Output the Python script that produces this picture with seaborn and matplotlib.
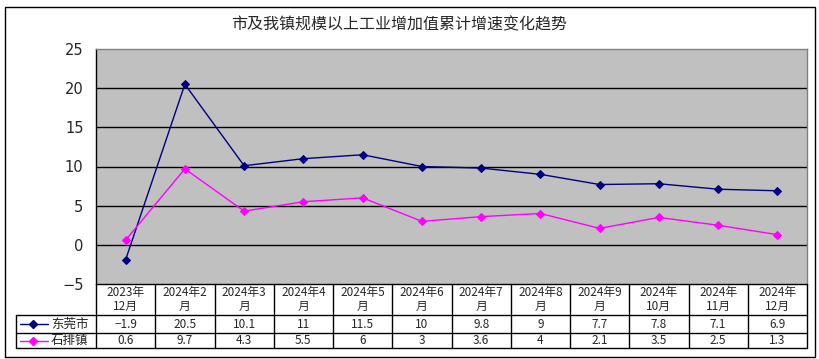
import pandas as pd
import matplotlib
matplotlib.use("Agg")
import matplotlib.pyplot as plt
import seaborn as sns

months = ["2023年\n12月", "2024年2\n月", "2024年3\n月", "2024年4\n月", "2024年5\n月",
          "2024年6\n月", "2024年7\n月", "2024年8\n月", "2024年9\n月",
          "2024年\n10月", "2024年\n11月", "2024年\n12月"]
dongguan = [-1.9, 20.5, 10.1, 11, 11.5, 10, 9.8, 9, 7.7, 7.8, 7.1, 6.9]
shipai = [0.6, 9.7, 4.3, 5.5, 6, 3, 3.6, 4, 2.1, 3.5, 2.5, 1.3]
series_names = ["东莞市", "石排镇"]
series_colors = ["#000080", "#FF00FF"]
yticks = [-5, 0, 5, 10, 15, 20, 25]
title = "市及我镇规模以上工业增加值累计增速变化趋势"

sns.set_theme(style="white")
plt.rcParams["font.family"] = ["Noto Sans CJK SC", "DejaVu Sans"]

W, H = 819, 359
fig = plt.figure(figsize=(W / 100, H / 100), dpi=100)

# pixel layout
px_l, px_r, px_t, px_b = 96, 807, 49, 284
ax = fig.add_axes([px_l / W, 1 - px_b / H, (px_r - px_l) / W, (px_b - px_t) / H])

df = pd.DataFrame({
    "x": list(range(len(months))) * 2,
    "value": dongguan + shipai,
    "series": [series_names[0]] * len(months) + [series_names[1]] * len(months),
})
for name, color in zip(series_names, series_colors):
    sub = df[df["series"] == name]
    sns.lineplot(data=sub, x="x", y="value", ax=ax, color=color, marker="D",
                 markersize=4, markeredgecolor=color, linewidth=1, legend=False)

ax.set_facecolor("#C0C0C0")
ax.set_xlim(-0.5, len(months) - 0.5)
ax.set_ylim(-5, 25)
ax.set_yticks(yticks)
ax.set_yticklabels([f"{t}" if t >= 0 else f"\u2212{abs(t)}" for t in yticks],
                   fontsize=10.5, family=["DejaVu Sans"])
ax.tick_params(axis="y", length=0, pad=9)
ax.set_xticks([])
ax.set_xlabel("")
ax.set_ylabel("")
for t in yticks[1:-1]:
    ax.axhline(t, color="black", linewidth=1, zorder=0.5)
for side in ["top", "right"]:
    ax.spines[side].set_color("#808080")
    ax.spines[side].set_linewidth(1)
ax.spines["left"].set_color("black")
ax.spines["left"].set_linewidth(1)
ax.spines["bottom"].set_visible(False)

# overlay in pixel coordinates for the frame and data table
ov = fig.add_axes([0, 0, 1, 1], zorder=-1)
ov.set_xlim(0, W)
ov.set_ylim(H, 0)
ov.axis("off")
ov.add_patch(plt.Rectangle((5, 7), 810, 350, fill=False, edgecolor="black", linewidth=1))
fig.text(399 / W, 1 - 25 / H, title, ha="center", va="center", fontsize=11.5)

tb = fig.add_axes([0, 0, 1, 1], zorder=3)
tb.set_xlim(0, W)
tb.set_ylim(H, 0)
tb.axis("off")
tb.patch.set_alpha(0)
r0, r1, r2, r3 = 284, 315, 333, 348
leg_l = 16
colw = (px_r - px_l) / len(months)
lk = dict(color="black", linewidth=1)
tb.plot([px_l, px_r], [r0, r0], **lk)
for y in (r1, r2, r3):
    tb.plot([leg_l, px_r], [y, y], **lk)
tb.plot([leg_l, leg_l], [r1, r3], **lk)
for i in range(len(months) + 1):
    x = px_l + i * colw
    tb.plot([x, x], [r0, r3], **lk)

for i, lab in enumerate(months):
    cx = px_l + (i + 0.5) * colw
    tb.text(cx, (r0 + r1) / 2, lab, ha="center", va="center", fontsize=8.5, linespacing=1.15)
    for vals, (ya, yb) in ((dongguan, (r1, r2)), (shipai, (r2, r3))):
        s = f"{vals[i]:g}".replace("-", "\u2212")
        tb.text(cx, (ya + yb) / 2, s, ha="center", va="center", fontsize=8.5)

for name, color, (ya, yb) in zip(series_names, series_colors, ((r1, r2), (r2, r3))):
    yc = (ya + yb) / 2
    tb.plot([20, 48], [yc, yc], color=color, linewidth=1)
    tb.plot([33], [yc], marker="D", color=color, markersize=4)
    tb.text(51, yc, name, ha="left", va="center", fontsize=9)

fig.savefig("out.png", dpi=100)
